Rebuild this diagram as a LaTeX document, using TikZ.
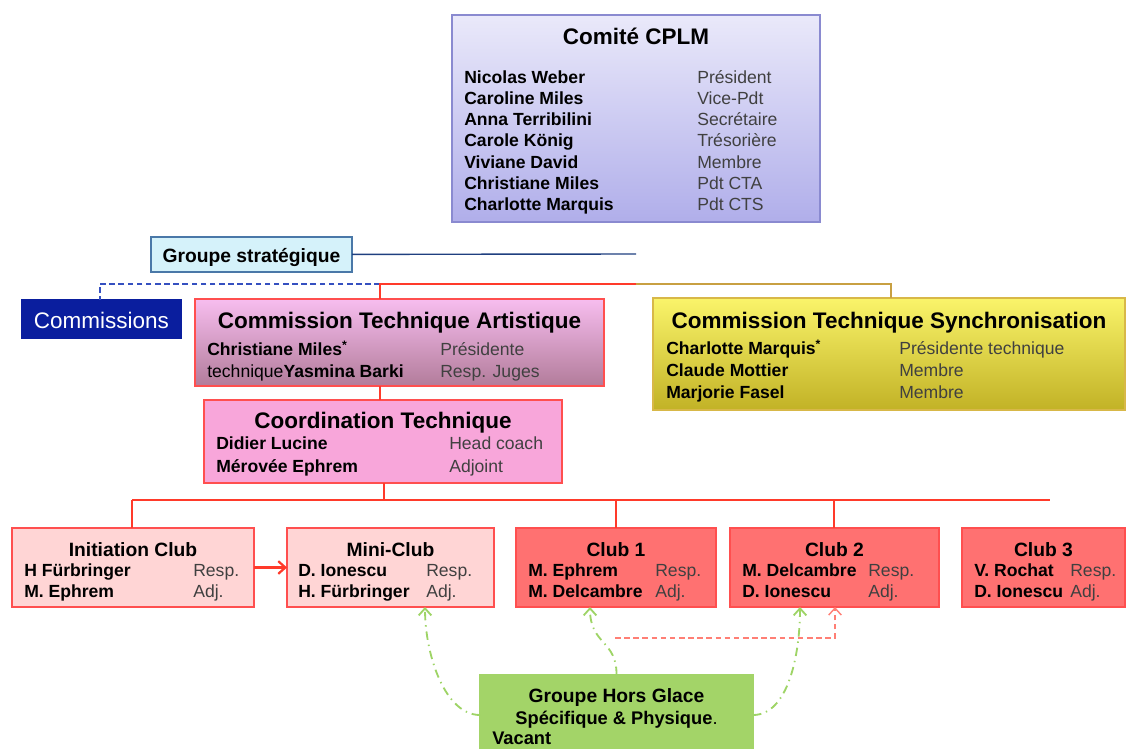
\documentclass[tikz,border=0pt]{standalone}
\usepackage{fontspec}
\setmainfont{Liberation Sans}
\usepackage{tikz}
\usetikzlibrary{arrows.meta}
\definecolor{cplmTop}{HTML}{EAE9FA}
\definecolor{cplmBot}{HTML}{B0AEEA}
\definecolor{cplmLine}{HTML}{8A8AD0}
\definecolor{grpFill}{HTML}{D5F2FA}
\definecolor{grpLine}{HTML}{4A78A8}
\definecolor{comFill}{HTML}{0A1E9E}
\definecolor{ctaTop}{HTML}{F7BDEF}
\definecolor{ctaBot}{HTML}{B27C9A}
\definecolor{ctsTop}{HTML}{FAF46A}
\definecolor{ctsBot}{HTML}{C2B226}
\definecolor{ctsLine}{HTML}{D8B848}
\definecolor{ctFill}{HTML}{F8A6DA}
\definecolor{clubLight}{HTML}{FFD5D5}
\definecolor{clubRed}{HTML}{FF7171}
\definecolor{clubLine}{HTML}{FF4F4F}
\definecolor{ghgFill}{HTML}{A3D468}
\definecolor{hgGreen}{HTML}{9ED466}
\definecolor{stratBlue}{HTML}{1F3F7F}
\definecolor{dashBlue}{HTML}{3550C0}
\definecolor{lineRed}{HTML}{FF3A2A}
\definecolor{ctsGold}{HTML}{C8A042}
\begin{document}
\begin{tikzpicture}
[x=0.025cm,y=-0.025cm]
\tikzset{box/.style={draw,rectangle,inner sep=0pt,outer sep=0pt,line width=1pt},
boxsize/.style 2 args={minimum width=#1*0.025cm,minimum height=#2*0.025cm},
ttl/.style={inner sep=0pt,text height=2.2ex,text depth=.2ex,font=\fontsize{16}{18}\selectfont\bfseries},
sub/.style={ttl,text height=2.1ex,font=\fontsize{13.7}{16}\selectfont\bfseries},
nm/.style={anchor=west,inner sep=0pt,text height=1.9ex,text depth=.2ex,font=\fontsize{12.5}{14}\selectfont\bfseries},
rl/.style={nm,font=\fontsize{12.5}{14}\selectfont,text=black!75},
link/.style={line width=1pt},
tip/.style={-{Straight Barb[length=5pt,width=9pt]}},
hg/.style={link,line width=1.3pt,draw=hgGreen,tip,dash pattern=on 6pt off 3.5pt on 1pt off 3.5pt}}
\useasboundingbox (0,0) rectangle (1126,749);

\node [box,boxsize={368}{207},draw=cplmLine,top color=cplmTop,bottom color=cplmBot] (cplm) at (636,118.5) {};
\node [ttl] (cplm-t) at (636,37) {Comité CPLM};
\foreach \nm/\rl [count=\i] in {Nicolas Weber/Président,Caroline Miles/Vice-Pdt,Anna Terribilini/Secrétaire,Carole König/Trésorière,Viviane David/Membre,Christiane Miles/Pdt CTA,Charlotte Marquis/Pdt CTS}{
  \node [nm] (cplm-n\i) at (464,{77+21.2*(\i-1)}) {\nm};
  \node [rl] (cplm-r\i) at (697,{77+21.2*(\i-1)}) {\rl};
}

\node [box,boxsize={201}{35},draw=grpLine,fill=grpFill] (grp) at (251.5,254.5) {};
\node [sub] (grp-t) at (251.5,255) {Groupe stratégique};
\node [box,boxsize={159}{38},draw=comFill,fill=comFill] (com) at (101.5,319) {};
\node [inner sep=0pt,text=white,font=\fontsize{16}{18}\selectfont] (com-t) at (101.5,320) {Commissions};

\node [box,boxsize={409}{87},draw=clubLine,top color=ctaTop,bottom color=ctaBot] (cta) at (399.5,342.5) {};
\node [ttl] (cta-t) at (399.5,321) {Commission Technique Artistique};
\node [nm] (cta-n1) at (207,349) {Christiane Miles\textsuperscript{*}};
\node [rl] (cta-r1) at (440,349) {Présidente};
\node [nm] (cta-n2) at (207,371) {\textmd{technique}Yasmina Barki};
\node [rl] (cta-r2) at (440,371) {Resp. Juges};

\node [box,boxsize={472}{112},draw=ctsLine,top color=ctsTop,bottom color=ctsBot] (cts) at (889,354) {};
\node [ttl] (cts-t) at (889,321) {Commission Technique Synchronisation};
\foreach \nm/\rl [count=\i] in {Charlotte Marquis\textsuperscript{*}/Présidente technique,Claude Mottier/Membre,Marjorie Fasel/Membre}{
  \node [nm] (cts-n\i) at (666,{348+22*(\i-1)}) {\nm};
  \node [rl] (cts-r\i) at (899,{348+22*(\i-1)}) {\rl};
}

\node [box,boxsize={358}{83},draw=clubLine,fill=ctFill] (ct) at (383,441.5) {};
\node [ttl] (ct-t) at (383,421) {Coordination Technique};
\node [nm] (ct-n1) at (216,443) {Didier Lucine};
\node [rl] (ct-r1) at (449,443) {Head coach};
\node [nm] (ct-n2) at (216,466) {Mérovée Ephrem};
\node [rl] (ct-r2) at (449,466) {Adjoint};

\foreach \b/\cx/\w/\col in {ini/133/242/clubLight,mini/390.5/207/clubLight,c1/616/200/clubRed,c2/834.5/209/clubRed,c3/1043.5/163/clubRed}
  \node [box,boxsize={\w}{79},draw=clubLine,fill=\col] (\b) at (\cx,567.5) {};
\foreach \b/\cx/\nx/\rx/\ttl/\na/\nb in {ini/133/24/193/Initiation Club/H Fürbringer/M. Ephrem,mini/390.5/298/426/Mini-Club/D. Ionescu/H. Fürbringer,c1/616/528/655/Club 1/M. Ephrem/M. Delcambre,c2/834.5/742/868/Club 2/M. Delcambre/D. Ionescu,c3/1043.5/974/1070/Club 3/V. Rochat/D. Ionescu}{
  \node [sub] (\b-t) at (\cx,549) {\ttl};
  \node [nm] (\b-n1) at (\nx,570) {\na};
  \node [rl] (\b-r1) at (\rx,570) {Resp.};
  \node [nm] (\b-n2) at (\nx,591) {\nb};
  \node [rl] (\b-r2) at (\rx,591) {Adj.};
}

\node [box,boxsize={273}{80},draw=ghgFill,fill=ghgFill] (ghg) at (616.5,715) {};
\node [sub] (ghg-t) at (616.5,695) {Groupe Hors Glace};
\node [sub,font=\fontsize{13}{15}\selectfont\bfseries] (ghg-s) at (616.5,717) {Spécifique \& Physique\textmd{.}};
\node [nm,font=\fontsize{13}{15}\selectfont\bfseries] (ghg-v) at (492,738) {Vacant};

\coordinate (grp-end) at (636,254);
\coordinate (j1) at (380,284);
\coordinate (j2) at (636,284);
\coordinate (com-j) at (100,284);
\coordinate (cts-j) at (891,284);
\coordinate (bus) at (384,500);
\coordinate (ini-j) at (132,500);
\coordinate (c1-j) at (616,500);
\coordinate (c2-j) at (834,500);
\coordinate (bus-r) at (1050,500);
\coordinate (mini-in) at (425,607);
\coordinate (c1-in) at (590,607);
\coordinate (c2-in) at (800,607);
\coordinate (c2-red) at (835,607);
\coordinate (red-start) at (615,638);

\draw [link,draw=stratBlue] (grp) -- (grp-end);
\draw [link,draw=dashBlue,dash pattern=on 4pt off 2.5pt] (j1) -- (com-j) -- (com.north -| com-j);
\draw [link,draw=lineRed] (cta.north -| j1) -- (j1) -- (j2);
\draw [link,draw=ctsGold] (j2) -- (cts-j) -- (cts.north -| cts-j);
\draw [link,draw=lineRed] (cta.south -| j1) -- (ct.north -| j1);
\draw [link,draw=lineRed] (ct.south -| bus) -- (bus);
\draw [link,draw=lineRed] (ini-j) -- (bus-r);
\foreach \b in {ini,c1,c2}
  \draw [link,draw=lineRed] (\b-j) -- (\b.north -| \b-j);
\draw [link,draw=lineRed,line width=1.6pt,tip] (ini) -- (mini);

\draw [hg] (ghg.west) .. controls (445,715) and (425,655) .. (mini-in);
\draw [hg] (ghg.north -| ghg-t) .. controls (617,640) and (590,645) .. (c1-in);
\draw [hg] (ghg.east) .. controls (788,715) and (800,655) .. (c2-in);
\draw [link,draw=lineRed!65,dash pattern=on 4pt off 2.5pt,tip] (red-start) -- (red-start -| c2-red) -- (c2-red);

\end{tikzpicture}
\end{document}
